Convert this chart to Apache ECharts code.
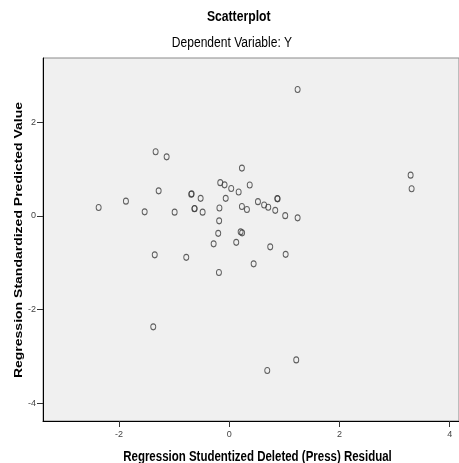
<!DOCTYPE html>
<html>
<head>
<meta charset="utf-8">
<script src="https://cdn.jsdelivr.net/npm/echarts@6/dist/echarts.min.js"></script>
<style>html,body{margin:0;padding:0;background:#fff}#c{width:459px;height:463px}</style>
</head>
<body>
<div id="c"></div>
<script>
var chartTitle = "Scatterplot";
var chartSubtitle = "Dependent Variable: Y";
var xTitle = "Regression Studentized Deleted (Press) Residual";
var yTitle = "Regression Standardized Predicted Value";
var xTicks = [-2, 0, 2, 4];
var yTicks = [-4, -2, 0, 2];
var xRange = [-3.38, 4.17];
var yRange = [-4.38, 3.37];
var xValues = [-1.336, -1.136, -1.281, -2.370, -1.875, -1.535, -0.991, -0.682, -0.690, -0.519,
  -0.628, -0.632, -0.483, -0.163, -0.085, 0.036, 0.171, 0.230, 0.372, -0.064,
  -0.178, 0.230, 0.321, -0.183, -0.200, -0.283, 0.127, 0.207, 0.234, -1.352,
  -0.780, -0.187, -1.379, 1.241, 3.292, 3.310, 0.521, 0.633, 0.708, 0.835,
  0.878, 0.872, 1.016, 1.241, 0.744, 1.024, 0.443, 1.216, 0.690];
var yValues = [1.367, 1.260, 0.534, 0.177, 0.314, 0.085, 0.079, 0.470, 0.462, 0.374,
  0.156, 0.150, 0.079, 0.709, 0.662, 0.583, 0.508, 1.019, 0.658, 0.374,
  0.167, 0.199, 0.135, -0.107, -0.374, -0.598, -0.566, -0.342, -0.363, -0.833,
  -0.886, -1.211, -2.370, 2.697, 0.869, 0.577, 0.303, 0.231, 0.182, 0.117,
  0.363, 0.370, 0.004, -0.043, -0.662, -0.822, -1.025, -3.075, -3.303];

var points = xValues.map(function (x, i) { return [x, yValues[i]]; });
var fam = '"Liberation Sans", Arial, sans-serif';

var chart = echarts.init(document.getElementById('c'), null, {renderer: 'canvas'});
chart.setOption({
  animation: false,
  backgroundColor: '#ffffff',
  grid: {left: 43, top: 58, right: -1, bottom: 42, show: true, backgroundColor: '#F0F0F0', borderColor: '#8a8a8a', borderWidth: 1},
  xAxis: {
    type: 'value', min: xRange[0], max: xRange[1],
    splitLine: {show: false},
    axisLine: {show: true, onZero: false, lineStyle: {color: '#000', width: 1}},
    axisTick: {show: true, length: 6, customValues: xTicks, lineStyle: {color: '#333'}},
    axisLabel: {show: true, customValues: xTicks, margin: 9, color: '#444', fontSize: 9, fontFamily: fam}
  },
  yAxis: {
    type: 'value', min: yRange[0], max: yRange[1],
    splitLine: {show: false},
    axisLine: {show: true, onZero: false, lineStyle: {color: '#000', width: 1}},
    axisTick: {show: true, length: 6, customValues: yTicks, lineStyle: {color: '#333'}},
    axisLabel: {show: true, customValues: yTicks, margin: 7, color: '#444', fontSize: 9, fontFamily: fam}
  },
  graphic: [
    {type: 'text', x: 238.7, y: 17.4, scaleX: 0.87, style: {text: chartTitle, x: 0, y: 0, textAlign: 'center', textVerticalAlign: 'middle', font: 'bold 14px ' + fam, fill: '#000'}},
    {type: 'text', x: 232, y: 42.8, scaleX: 0.86, style: {text: chartSubtitle, x: 0, y: 0, textAlign: 'center', textVerticalAlign: 'middle', font: '14px ' + fam, fill: '#000'}},
    {type: 'text', x: 257.5, y: 456.8, scaleX: 0.82, style: {text: xTitle, x: 0, y: 0, textAlign: 'center', textVerticalAlign: 'middle', font: 'bold 14px ' + fam, fill: '#000'}},
    {type: 'text', x: 18.4, y: 240, rotation: Math.PI / 2, scaleY: 0.84, style: {text: yTitle, x: 0, y: 0, textAlign: 'center', textVerticalAlign: 'middle', font: 'bold 14px ' + fam, fill: '#000'}}
  ],
  series: [{
    type: 'scatter',
    data: points,
    symbol: 'circle',
    symbolSize: [5, 6],
    itemStyle: {color: 'rgba(0,0,0,0)', borderColor: '#3a3a3a', borderWidth: 1},
    emphasis: {disabled: true}
  }]
});
</script>
</body>
</html>
